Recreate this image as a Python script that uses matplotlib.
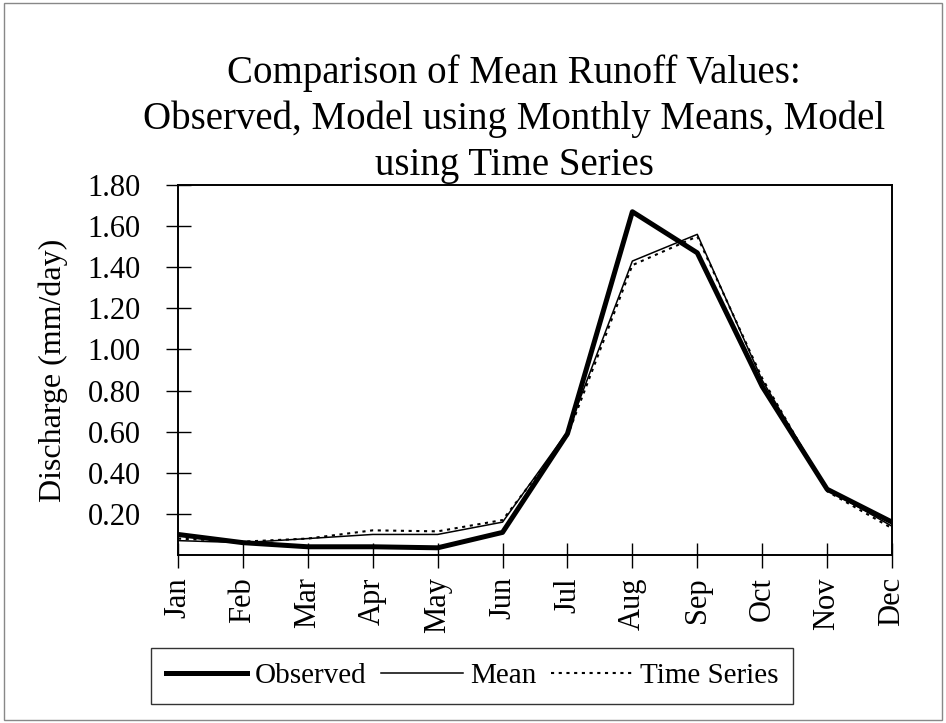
import matplotlib

matplotlib.use("Agg")
import matplotlib.pyplot as plt  # noqa: E402
from matplotlib.patches import Rectangle  # noqa: E402

plt.rcParams["font.family"] = ["Liberation Serif", "DejaVu Serif"]

months = ["Jan", "Feb", "Mar", "Apr", "May", "Jun",
          "Jul", "Aug", "Sep", "Oct", "Nov", "Dec"]
observed = [0.10, 0.06, 0.04, 0.04, 0.035, 0.11, 0.59, 1.67, 1.47, 0.82, 0.32, 0.16]
mean_model = [0.07, 0.06, 0.08, 0.10, 0.10, 0.16, 0.60, 1.43, 1.56, 0.85, 0.32, 0.14]
time_series = [0.08, 0.065, 0.08, 0.12, 0.115, 0.17, 0.58, 1.41, 1.55, 0.86, 0.31, 0.13]
y_ticks = [0.20, 0.40, 0.60, 0.80, 1.00, 1.20, 1.40, 1.60, 1.80]
title_lines = ["Comparison of Mean Runoff Values:",
               "Observed, Model using Monthly Means, Model",
               "using Time Series"]

W, H = 946, 723
fig = plt.figure(figsize=(W / 100, H / 100), dpi=100)
ax = fig.add_axes([178 / W, 1 - 555 / H, (892 - 178) / W, (555 - 185) / H])

xs = range(len(months))
ax.plot(xs, observed, color="black", lw=3.6, label="Observed")
ax.plot(xs, mean_model, color="black", lw=1.1, label="Mean")
ax.plot(xs, time_series, color="black", lw=1.5, ls=(0, (1.5, 2.2)), label="Time Series")

ax.set_xlim(0, len(months) - 1)
ax.set_ylim(0, 1.8)
ax.set_yticks(y_ticks)
ax.set_yticklabels([f"{v:.2f}" for v in y_ticks], fontsize=22)
ax.set_xticks(list(xs))
ax.set_xticklabels(months, rotation=90, fontsize=22)
ax.tick_params(axis="both", direction="inout", length=18, width=1)
ax.tick_params(axis="y", pad=18)
ax.tick_params(axis="x", pad=7)
for s in ax.spines.values():
    s.set_linewidth(1.4)
ax.set_ylabel("Discharge (mm/day)", fontsize=23)
# label anchor is its right edge once rotated
ax.yaxis.set_label_coords((68 - 178) / 714, 0.5)

for line, base in zip(title_lines, [83, 129, 175]):
    fig.text(514 / W, 1 - base / H, line, ha="center", va="baseline", fontsize=28)

leg = fig.legend(loc="center", bbox_to_anchor=(472 / W, 1 - 676 / H), ncol=3, fontsize=21,
                 frameon=True, fancybox=False, edgecolor="black", handlelength=2.8,
                 handletextpad=0.25, columnspacing=0.5, borderpad=0.5, borderaxespad=0)
leg.get_frame().set_linewidth(1.0)

fig.patches.append(Rectangle((0.004, 0.004), 0.992, 0.992, transform=fig.transFigure,
                             fill=False, edgecolor="#888888", lw=1))

fig.savefig("out.png", dpi=100)
